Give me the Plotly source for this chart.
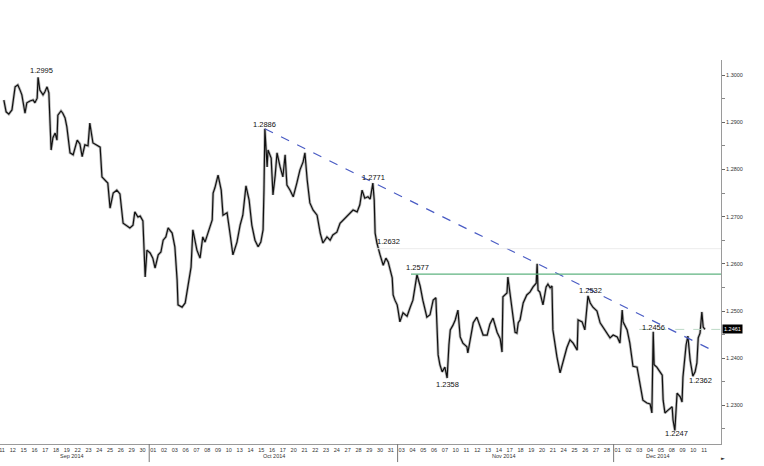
import plotly.graph_objects as go
import pandas as pd

# ---------------- data (EUR/USD path) ----------------
stamps = [
    "09-11 13","09-11 18","09-12 00","09-12 07","09-12 14","09-12 20",
    "09-15 01","09-15 05","09-15 12","09-15 16","09-15 23",
    "09-16 06","09-16 10","09-16 15","09-16 17","09-16 21",
    "09-17 04","09-17 08","09-17 13","09-17 17","09-17 22",
    "09-18 02","09-18 07","09-18 11","09-18 13","09-18 20",
    "09-19 00","09-19 05","09-19 09","09-19 16","09-19 23",
    "09-22 08","09-22 14","09-22 19",
    "09-23 01","09-23 08","09-23 12","09-23 19",
    "09-24 02","09-24 11","09-24 15","09-24 22",
    "09-25 04","09-25 09","09-25 16",
    "09-26 00","09-26 07","09-26 14","09-26 23",
    "09-29 05","09-29 12","09-29 16","09-29 23",
    "09-30 04","09-30 10","09-30 15","09-30 19",
    "10-01 02","10-01 08","10-01 13","10-01 20",
    "10-02 02","10-02 07","10-02 13","10-02 18",
    "10-03 03","10-03 09","10-03 14","10-03 16",
    "10-06 01","10-06 08","10-06 14","10-06 21",
    "10-07 01","10-07 10","10-07 17","10-07 23",
    "10-08 04","10-08 11","10-08 20","10-08 22",
    "10-09 02","10-09 09","10-09 16","10-09 20",
    "10-10 05","10-10 12","10-10 18",
    "10-13 03","10-13 10","10-13 16","10-13 23",
    "10-14 06","10-14 12","10-14 19",
    "10-15 02","10-15 08","10-15 13","10-15 15","10-15 17","10-15 22",
    "10-16 00","10-16 07","10-16 11","10-16 16","10-16 20",
    "10-17 03","10-17 09","10-17 14","10-17 18",
    "10-20 01","10-20 08","10-20 16","10-20 23",
    "10-21 06","10-21 10","10-21 15","10-21 21",
    "10-22 04","10-22 13","10-22 20",
    "10-23 02","10-23 11","10-23 18",
    "10-24 00","10-24 09","10-24 16","10-24 23",
    "10-27 08","10-27 14","10-27 21",
    "10-28 06","10-28 12","10-28 17","10-28 23",
    "10-29 06","10-29 11","10-29 17","10-29 20","10-29 22",
    "10-30 02","10-30 09","10-30 16","10-30 22",
    "10-31 03","10-31 12","10-31 14","10-31 18","10-31 23",
    "11-03 01","11-03 05","11-03 12","11-03 21",
    "11-04 04","11-04 10","11-04 19",
    "11-05 02","11-05 08","11-05 17",
    "11-06 00","11-06 07","11-06 13","11-06 16","11-06 18","11-06 22",
    "11-07 03","11-07 09","11-07 14","11-07 18","11-07 21",
    "11-10 03","11-10 08","11-10 14","11-10 19",
    "11-11 01","11-11 10","11-11 12","11-11 19",
    "11-12 00","11-12 08","11-12 15","11-12 22",
    "11-13 07","11-13 13","11-13 20",
    "11-14 05","11-14 12","11-14 16","11-14 18",
    "11-17 03","11-17 05","11-17 10","11-17 14","11-17 21",
    "11-18 01","11-18 04","11-18 08","11-18 15","11-18 23",
    "11-19 06","11-19 13","11-19 20","11-19 22",
    "11-20 00","11-20 04","11-20 11","11-20 18","11-20 22",
    "11-21 03","11-21 07","11-21 09","11-21 14","11-21 18",
    "11-24 01","11-24 08","11-24 16","11-24 23",
    "11-25 06","11-25 15","11-25 17",
    "11-26 02","11-26 08","11-26 15","11-26 20",
    "11-27 02","11-27 11","11-27 18",
    "11-28 00","11-28 09","11-28 16","11-28 23",
    "12-01 08","12-01 14","12-01 19","12-01 21",
    "12-02 06","12-02 12","12-02 19",
    "12-03 04","12-03 11","12-03 17",
    "12-04 02","12-04 09","12-04 13","12-04 16","12-04 18",
    "12-05 00","12-05 07","12-05 12","12-05 14","12-05 18",
    "12-08 01","12-08 10","12-08 12","12-08 16","12-08 21",
    "12-09 04","12-09 08","12-09 10","12-09 17","12-09 21",
    "12-10 02","12-10 08","12-10 13","12-10 17","12-10 20",
    "12-11 00","12-11 04","12-11 07","12-11 11",
]
prices = [
    1.2947,1.2922,1.2917,1.2926,1.2975,1.2979,
    1.2968,1.2958,1.2919,1.2941,1.2945,
    1.2947,1.2941,1.2951,1.2995,1.2968,
    1.2958,1.2964,1.2975,1.2962,1.2841,
    1.2867,1.2877,1.2862,1.2915,1.2924,
    1.2919,1.2909,1.2890,1.2835,1.2831,
    1.2862,1.2854,1.2827,
    1.2852,1.2850,1.2898,1.2856,
    1.2852,1.2847,1.2784,1.2778,
    1.2771,1.2718,1.2750,
    1.2756,1.2748,1.2686,1.2680,
    1.2676,1.2682,1.2710,1.2699,
    1.2701,1.2691,1.2572,1.2629,
    1.2623,1.2612,1.2591,1.2619,
    1.2625,1.2650,1.2657,1.2676,
    1.2665,1.2636,1.2566,1.2513,
    1.2508,1.2517,1.2551,1.2593,
    1.2672,1.2629,1.2612,1.2657,
    1.2646,1.2665,1.2693,1.2750,
    1.2761,1.2788,1.2756,1.2703,
    1.2708,1.2661,1.2619,
    1.2646,1.2682,1.2703,1.2765,
    1.2735,1.2682,1.2650,
    1.2636,1.2646,1.2672,1.2756,1.2886,1.2805,
    1.2841,1.2824,1.2746,1.2788,1.2835,
    1.2805,1.2784,1.2831,1.2767,
    1.2756,1.2742,1.2771,1.2799,
    1.2816,1.2835,1.2778,1.2729,
    1.2714,1.2703,1.2665,
    1.2644,1.2657,1.2650,
    1.2661,1.2667,1.2686,1.2693,
    1.2703,1.2708,1.2714,
    1.2710,1.2725,1.2756,1.2739,
    1.2742,1.2737,1.2771,1.2735,1.2665,
    1.2644,1.2619,1.2597,1.2612,
    1.2604,1.2570,1.2534,1.2523,1.2513,
    1.2502,1.2477,1.2496,1.2489,
    1.2508,1.2523,1.2577,
    1.2553,1.2523,1.2487,
    1.2492,1.2523,1.2528,1.2449,1.2407,1.2386,
    1.2371,1.2381,1.2358,1.2428,1.2460,
    1.2470,1.2481,1.2502,1.2445,
    1.2432,1.2424,1.2411,1.2449,
    1.2475,1.2487,1.2470,1.2449,
    1.2449,1.2472,1.2485,
    1.2455,1.2441,1.2413,1.2530,
    1.2538,1.2572,1.2534,1.2502,1.2455,
    1.2453,1.2475,1.2481,1.2517,1.2534,
    1.2540,1.2551,1.2559,1.2600,
    1.2544,1.2540,1.2513,1.2551,1.2557,
    1.2549,1.2553,1.2460,1.2428,1.2403,
    1.2369,1.2392,1.2422,1.2439,
    1.2432,1.2417,1.2481,
    1.2477,1.2460,1.2532,1.2517,
    1.2508,1.2500,1.2475,
    1.2466,1.2453,1.2443,1.2449,
    1.2445,1.2432,1.2502,1.2477,
    1.2460,1.2432,1.2383,
    1.2381,1.2339,1.2311,
    1.2305,1.2303,1.2284,1.2456,1.2386,
    1.2381,1.2371,1.2364,1.2311,1.2284,
    1.2290,1.2297,1.2269,1.2247,1.2326,
    1.2318,1.2307,1.2360,1.2428,1.2447,
    1.2396,1.2362,1.2371,1.2390,1.2443,
    1.2453,1.2498,1.2466,1.2461,
]

# trading days shown on the x axis (tick labels)
sep_days = [11, 12, 15, 16, 17, 18, 19, 22, 23, 24, 25, 26, 29, 30]
oct_days = [1, 2, 3, 6, 7, 8, 9, 10, 13, 14, 15, 16, 17, 20, 21, 22, 23, 24, 27, 28, 29, 30, 31]
nov_days = [3, 4, 5, 6, 7, 10, 11, 12, 13, 14, 17, 18, 19, 20, 21, 24, 25, 26, 27, 28]
dec_days = [1, 2, 3, 4, 5, 8, 9, 10, 11]
month_names = ["Sep 2014", "Oct 2014", "Nov 2014", "Dec 2014"]

# annotated levels
level_labels = ["1.2995", "1.2886", "1.2771", "1.2632", "1.2577",
                "1.2358", "1.2532", "1.2456", "1.2362", "1.2247"]
trend_start = ("2014-10-15 17:00", 1.2886)
trend_end = ("2014-12-12 11:30", 1.2413)
resistance = 1.2578
faint_level = 1.2632
last_price = 1.2461

# ---------------- figure ----------------
t = pd.to_datetime(["2014-" + s for s in stamps], format="%Y-%m-%d %H")

x_lo, x_hi = "2014-09-11 04:26", "2014-12-12 22:35"
y_lo, y_hi = 1.22182, 1.30318

tick_dates, tick_text = [], []
for m, days in zip([9, 10, 11, 12], [sep_days, oct_days, nov_days, dec_days]):
    for d in days:
        tick_dates.append(f"2014-{m:02d}-{d:02d} 09:00")
        tick_text.append(f"{d:02d}")

fig = go.Figure()
fig.add_trace(go.Scatter(x=t, y=prices, mode="lines",
                         line=dict(color="rgba(120,120,120,0.5)", width=2.8),
                         hoverinfo="skip"))
fig.add_trace(go.Scatter(x=t, y=prices, mode="lines",
                         line=dict(color="#111111", width=1.2)))

FONT = "Liberation Sans"
axis_col = "#9a9a9a"

fig.update_layout(
    width=764, height=466,
    margin=dict(l=0, r=43, t=60, b=22),
    paper_bgcolor="white", plot_bgcolor="white",
    showlegend=False,
    font=dict(family=FONT, color="#222"),
    xaxis=dict(
        type="date", range=[x_lo, x_hi],
        rangebreaks=[dict(bounds=["sat", "mon"])],
        showgrid=False, zeroline=False,
        showline=True, linecolor=axis_col, linewidth=1,
        tickmode="array", tickvals=tick_dates, ticktext=tick_text,
        ticks="", tickfont=dict(size=5.5, family=FONT, color="#333"),
        tickangle=0, ticklabeloverflow="allow",
    ),
    yaxis=dict(
        side="right", range=[y_lo, y_hi],
        tick0=1.3, dtick=0.01, tickformat=".4f",
        ticks="outside", ticklen=3, tickcolor="#666",
        minor=dict(dtick=0.005, ticks="outside", ticklen=3, tickcolor="#888"),
        showgrid=False, zeroline=False,
        showline=True, linecolor=axis_col, linewidth=1,
        tickfont=dict(size=5.5, family=FONT, color="#333"),
    ),
)

shapes = []
# descending trend line
shapes.append(dict(type="line", xref="x", yref="y",
                   x0=trend_start[0], y0=trend_start[1], x1=trend_end[0], y1=trend_end[1],
                   line=dict(color="#4a5cc4", width=1.2, dash="dash")))
# horizontal resistance (green)
shapes.append(dict(type="line", xref="x", yref="y",
                   x0="2014-11-04 05:45", y0=resistance, x1=x_hi, y1=resistance,
                   line=dict(color="#5fb380", width=1.2)))
# faint level
shapes.append(dict(type="line", xref="x", yref="y",
                   x0="2014-10-30 00:00", y0=faint_level, x1=x_hi, y1=faint_level,
                   line=dict(color="#ececec", width=1)))
# last price dashed
shapes.append(dict(type="line", xref="x", yref="y",
                   x0="2014-12-03 09:00", y0=last_price, x1=x_hi, y1=last_price,
                   line=dict(color="#bcd9c6", width=1, dash="dash")))
# month separators
for sep in ["2014-10-01 00:00", "2014-11-03 00:00", "2014-12-01 00:00"]:
    shapes.append(dict(type="line", xref="x", yref="paper",
                       x0=sep, x1=sep, y0=0, y1=-0.047,
                       line=dict(color="#777", width=1)))
fig.update_layout(shapes=shapes)

# level label positions (time, price) placed next to the turning points
label_pos = [
    ("2014-09-17 00:40", 1.30106),
    ("2014-10-15 17:17", 1.28962),
    ("2014-10-29 18:30", 1.27839),
    ("2014-10-31 03:50", 1.26483),
    ("2014-11-04 20:10", 1.25932),
    ("2014-11-07 14:53", 1.23453),
    ("2014-11-26 19:30", 1.25424),
    ("2014-12-04 16:35", 1.24640),
    ("2014-12-11 00:00", 1.23517),
    ("2014-12-08 18:40", 1.22394),
]
ann = []
for txt, (xx, yy) in zip(level_labels, label_pos):
    ann.append(dict(x=xx, y=yy, xref="x", yref="y", text=txt, showarrow=False,
                    xanchor="center", yanchor="middle",
                    font=dict(size=7.5, family=FONT, color="#111")))

month_pos = ["2014-09-19 20:00", "2014-10-16 13:00", "2014-11-14 20:00", "2014-12-05 02:00"]
for name, xx in zip(month_names, month_pos):
    ann.append(dict(x=xx, y=-0.031, xref="x", yref="paper", text=name, showarrow=False,
                    xanchor="center", yanchor="middle",
                    font=dict(size=5.5, family=FONT, color="#333")))

# last price box on the axis
ann.append(dict(x=1, y=last_price, xref="paper", yref="y", text=f"{last_price:.4f}",
                showarrow=False, xanchor="left", yanchor="middle", xshift=1,
                bgcolor="black", borderpad=1,
                font=dict(size=5.5, family=FONT, color="white")))
# small arrow at end of time axis
ann.append(dict(x=1.003, y=-0.036, xref="paper", yref="paper", text="►",
                showarrow=False, xanchor="center", yanchor="middle",
                font=dict(size=5, family="DejaVu Sans", color="#333")))
fig.update_layout(annotations=ann)

fig.write_html("out.html",
               config={"displayModeBar": False},
               post_script="document.body.style.margin='0';document.body.style.padding='0';")
